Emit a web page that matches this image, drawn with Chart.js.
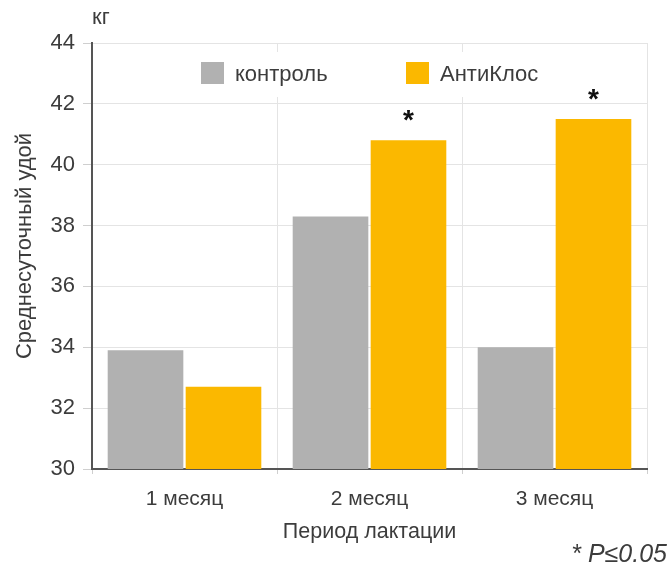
<!DOCTYPE html>
<html>
<head>
<meta charset="utf-8">
<script src="https://cdn.jsdelivr.net/npm/chart.js@4/dist/chart.umd.min.js"></script>
<style>
  html, body { margin: 0; padding: 0; background: #fff; }
  #wrap { width: 669px; height: 571px; }
</style>
</head>
<body>
<div id="wrap"><canvas id="chart" width="669" height="571"></canvas></div>
<script>
// ---- Data ----
const categories = ["1 месяц", "2 месяц", "3 месяц"];
const seriesNames = ["контроль", "АнтиКлос"];
const controlValues = [33.9, 38.3, 34.0];
const antiklosValues = [32.7, 40.8, 41.5];
const significance = ["", "*", "*"];
const yTicks = [30, 32, 34, 36, 38, 40, 42, 44];

// ---- Style ----
const FONT = "'Liberation Sans', Arial, sans-serif";
const C = {
  control: "#b1b1b1",
  antiklos: "#fbb800",
  text: "#3c3c3c",
  grid: "#e4e4e4",
  axis: "#555555",
};

// legend in the upper part of the plot, on a white box over the grid
const innerLegend = {
  id: "innerLegend",
  afterDatasetsDraw(chart) {
    const ctx = chart.ctx;
    ctx.save();
    ctx.fillStyle = "#fff";
    ctx.fillRect(190, 52, 360, 45);
    const xs = [201, 406];
    chart.data.datasets.forEach((ds, i) => {
      ctx.fillStyle = ds.backgroundColor;
      ctx.fillRect(xs[i], 62, 23, 22);
      ctx.fillStyle = C.text;
      ctx.font = "22px " + FONT;
      ctx.textBaseline = "middle";
      ctx.textAlign = "left";
      ctx.fillText(ds.label, xs[i] + 34, 75);
    });
    ctx.restore();
  }
};

// significance stars above the АнтиКлос bars, unit, y title and footnote
const annotations = {
  id: "annotations",
  afterDraw(chart) {
    const ctx = chart.ctx;
    const meta = chart.getDatasetMeta(1);
    ctx.save();
    ctx.fillStyle = "#111";
    ctx.font = "bold 28px " + FONT;
    ctx.textAlign = "center";
    ctx.textBaseline = "alphabetic";
    significance.forEach((s, i) => {
      if (!s) return;
      const bar = meta.data[i];
      ctx.fillText(s, bar.x, bar.y - 11);
    });

    ctx.fillStyle = C.text;
    ctx.font = "22px " + FONT;
    ctx.textAlign = "left";
    ctx.textBaseline = "middle";
    ctx.fillText("кг", chart.chartArea.left, 18);

    ctx.save();
    ctx.translate(25, 246);
    ctx.rotate(-Math.PI / 2);
    ctx.textAlign = "center";
    ctx.font = "22px " + FONT;
    ctx.fillText("Среднесуточный удой", 0, 0);
    ctx.restore();

    ctx.font = "italic 25px " + FONT;
    ctx.textAlign = "right";
    ctx.fillText("* P≤0.05", 667, 555);
    ctx.restore();
  }
};

new Chart(document.getElementById("chart"), {
  type: "bar",
  data: {
    labels: categories,
    datasets: [
      { label: seriesNames[0], data: controlValues, backgroundColor: C.control },
      { label: seriesNames[1], data: antiklosValues, backgroundColor: C.antiklos },
    ]
  },
  options: {
    responsive: false,
    animation: false,
    categoryPercentage: 0.843,
    barPercentage: 0.97,
    layout: { padding: { top: 43, right: 22, left: 0, bottom: 0 } },
    plugins: {
      legend: { display: false },
      tooltip: { enabled: false },
    },
    scales: {
      x: {
        offset: true,
        grid: { offset: true, color: C.grid, tickLength: 5, tickColor: "#cfcfcf" },
        border: { color: C.axis, width: 2 },
        ticks: { color: C.text, font: { family: FONT, size: 21 }, padding: 13 },
        title: {
          display: true,
          text: "Период лактации",
          color: C.text,
          font: { family: FONT, size: 21.5 },
          padding: { top: 0, bottom: 26 },
        },
        afterFit: s => { s.height = 102; },
      },
      y: {
        min: 30,
        max: 44,
        afterBuildTicks: s => { s.ticks = yTicks.map(v => ({ value: v })); },
        grid: { color: C.grid, tickLength: 9, tickColor: "#cfcfcf" },
        border: { color: C.axis, width: 2 },
        ticks: { color: C.text, font: { family: FONT, size: 22 }, padding: 8 },
        afterFit: s => { s.width = 92; },
      }
    }
  },
  plugins: [innerLegend, annotations],
});
</script>
</body>
</html>
